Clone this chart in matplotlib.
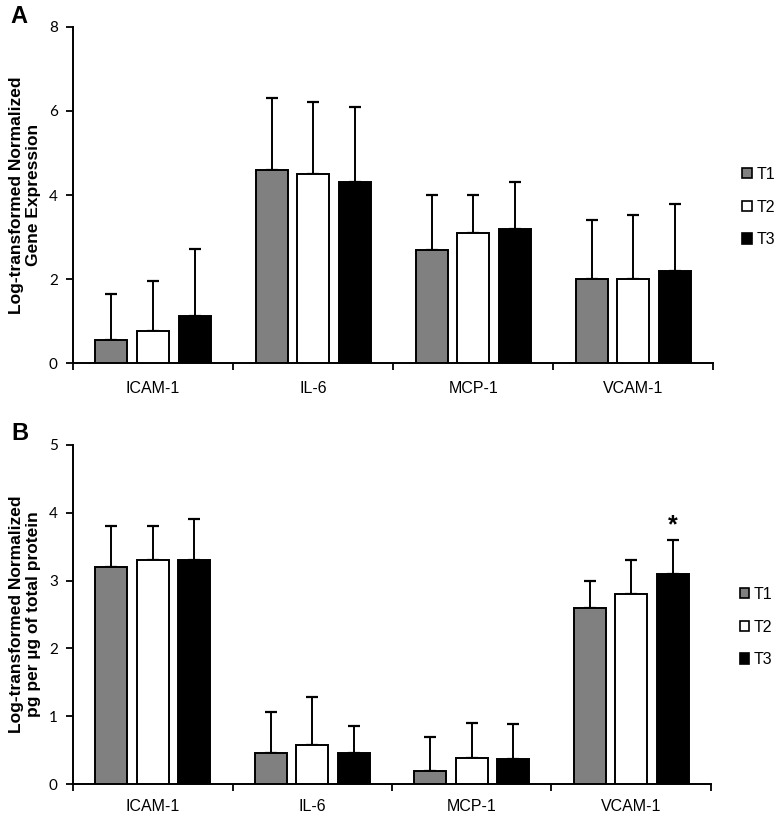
"""Two-panel grouped bar figure: gene expression (A) and protein levels (B) at T1-T3."""
import matplotlib
matplotlib.use("Agg")
import matplotlib.pyplot as plt
from matplotlib.patches import Patch
import numpy as np

categories = ["ICAM-1", "IL-6", "MCP-1", "VCAM-1"]
timepoints = ["T1", "T2", "T3"]

# panel A: log-transformed normalized gene expression (mean, upper SD)
gene_mean = {"T1": [0.56, 4.6, 2.7, 2.0],
             "T2": [0.76, 4.5, 3.1, 2.0],
             "T3": [1.11, 4.3, 3.2, 2.2]}
gene_err = {"T1": [1.08, 1.72, 1.3, 1.41],
            "T2": [1.19, 1.72, 0.9, 1.52],
            "T3": [1.6, 1.8, 1.11, 1.59]}

# panel B: log-transformed normalized pg per ug total protein
prot_mean = {"T1": [3.2, 0.46, 0.2, 2.6],
             "T2": [3.3, 0.58, 0.39, 2.8],
             "T3": [3.3, 0.46, 0.37, 3.1]}
prot_err = {"T1": [0.6, 0.6, 0.5, 0.4],
            "T2": [0.5, 0.71, 0.51, 0.5],
            "T3": [0.61, 0.4, 0.51, 0.5]}

colors = {"T1": "#808080", "T2": "white", "T3": "black"}
offsets = {"T1": -0.26, "T2": 0.0, "T3": 0.26}
LBL = "Liberation Sans"
NUM = "Lato"

fig = plt.figure(figsize=(7.77, 8.16), dpi=100)
axA = fig.add_axes([0.094, 0.555, 0.824, 0.412])
axB = fig.add_axes([0.094, 0.039, 0.821, 0.416])

x = np.arange(len(categories))


def draw(ax, means, errs, ymax, ystep, ylabel, xpad, leg_y):
    for t in timepoints:
        ax.bar(x + offsets[t], means[t], width=0.2, color=colors[t],
               edgecolor="black", linewidth=1.4, zorder=3)
        ax.errorbar(x + offsets[t], means[t], yerr=[np.zeros(4), errs[t]],
                    fmt="none", ecolor="black", elinewidth=1.4, capsize=4,
                    capthick=1.6, zorder=2)
    ax.set_xlim(-0.5, 3.5)
    ax.set_ylim(0, ymax)
    ax.set_yticks(range(0, ymax + 1, ystep))
    ax.set_xticks(x)
    ax.set_xticklabels(categories, fontsize=11.5, family=LBL)
    ax.set_xticks(np.arange(-0.5, 4.0, 1.0), minor=True)
    ax.tick_params(axis="x", which="major", length=0, pad=xpad)
    ax.tick_params(axis="x", which="minor", length=5, width=1.3, direction="out")
    ax.tick_params(axis="y", length=5, width=1.3, direction="out", labelsize=11, pad=6)
    for lab in ax.get_yticklabels():
        lab.set_family(NUM)
    for s in ["top", "right"]:
        ax.spines[s].set_visible(False)
    for s in ["left", "bottom"]:
        ax.spines[s].set_linewidth(1.4)
    ax.set_ylabel(ylabel, fontsize=12.5, fontweight="bold", family=LBL,
                  linespacing=1.15, labelpad=6)
    handles = [Patch(facecolor=colors[t], edgecolor="black", linewidth=1.2, label=t)
               for t in timepoints]
    ax.legend(handles=handles, loc="center left", bbox_to_anchor=(1.045, leg_y),
              frameon=False, borderaxespad=0, borderpad=0,
              handlelength=0.6, handleheight=0.6, handletextpad=0.3,
              labelspacing=1.1, prop={"family": LBL, "size": 11.5})


draw(axA, gene_mean, gene_err, 8, 2, "Log-transformed Normalized\nGene Expression", 13, 0.464)
draw(axB, prot_mean, prot_err, 5, 1, "Log-transformed Normalized\npg per µg of total protein", 11, 0.463)

# significance marker above VCAM-1 T3
axB.text(3 + offsets["T3"], prot_mean["T3"][3] + prot_err["T3"][3] + 0.04, "*",
         ha="center", va="bottom", fontsize=18, fontweight="bold", family=LBL)

fig.text(0.014, 0.972, "A", fontsize=17, fontweight="bold", family=LBL)
fig.text(0.014, 0.461, "B", fontsize=17, fontweight="bold", family=LBL)

fig.savefig("out.png", dpi=100)
